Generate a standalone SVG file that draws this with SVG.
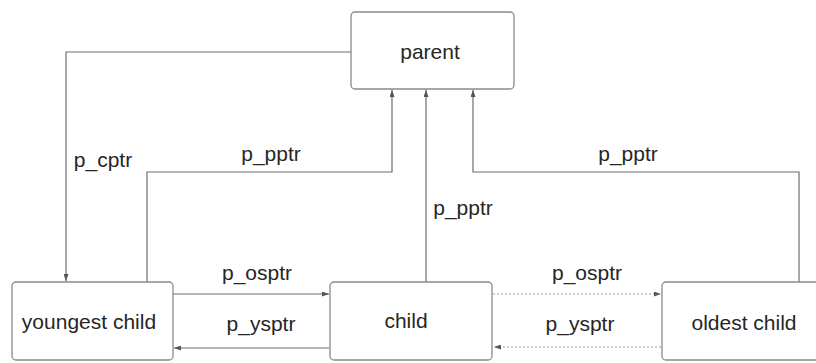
<svg xmlns="http://www.w3.org/2000/svg" width="816" height="363" viewBox="0 0 816 363">
  <style>
    .box { fill: #ffffff; stroke: #8a8a8a; stroke-width: 1.3; }
    .lbl { font-family: "Liberation Sans", Arial, sans-serif; font-size: 21px; fill: #262626; text-anchor: middle; dominant-baseline: central; }
    .link { fill: none; stroke: #6e6e6e; stroke-width: 1.2; }
    .dotted { fill: none; stroke: #9a9a9a; stroke-width: 1.2; stroke-dasharray: 2 2; }
  </style>
  <defs>
    <marker id="arrow" viewBox="0 0 7 5" refX="7" refY="2.5" markerWidth="7" markerHeight="5" markerUnits="userSpaceOnUse" orient="auto">
      <path d="M0,0 L7,2.5 L0,5 z" fill="#555555"/>
    </marker>
  </defs>
  <rect width="816" height="363" fill="#ffffff"/>

  <!-- links between the task structs -->
  <g id="connectors">
    <!-- parent -> youngest child (p_cptr) -->
    <path class="link" d="M351,52 H66 V281" marker-end="url(#arrow)"/>
    <!-- youngest child -> parent (p_pptr) -->
    <path class="link" d="M147,282 V172 H392 V90" marker-end="url(#arrow)"/>
    <!-- child -> parent (p_pptr) -->
    <path class="link" d="M426,282 V90" marker-end="url(#arrow)"/>
    <!-- oldest child -> parent (p_pptr) -->
    <path class="link" d="M799,282 V172 H473 V90" marker-end="url(#arrow)"/>
    <!-- youngest child -> child (p_osptr) -->
    <path class="link" d="M173,294 H329" marker-end="url(#arrow)"/>
    <!-- child -> youngest child (p_ysptr) -->
    <path class="link" d="M329,348 H174" marker-end="url(#arrow)"/>
    <!-- child -> oldest child (p_osptr) -->
    <path class="dotted" d="M493,294 H661" marker-end="url(#arrow)"/>
    <!-- oldest child -> child (p_ysptr) -->
    <path class="dotted" d="M661,347 H494" marker-end="url(#arrow)"/>

    <text class="lbl" x="103" y="159">p_cptr</text>
    <text class="lbl" x="271" y="153">p_pptr</text>
    <text class="lbl" x="463" y="207">p_pptr</text>
    <text class="lbl" x="628" y="153">p_pptr</text>
    <text class="lbl" x="257" y="272">p_osptr</text>
    <text class="lbl" x="587" y="272">p_osptr</text>
    <text class="lbl" x="261" y="323">p_ysptr</text>
    <text class="lbl" x="580" y="323">p_ysptr</text>
  </g>

  <g id="parent">
    <rect class="box" x="351" y="12" width="163" height="77" rx="4"/>
    <text class="lbl" x="430" y="51">parent</text>
  </g>

  <g id="youngest-child">
    <rect class="box" x="12" y="282" width="161" height="78" rx="4"/>
    <text class="lbl" x="89" y="321">youngest child</text>
  </g>

  <g id="child">
    <rect class="box" x="330" y="282" width="162" height="78" rx="4"/>
    <text class="lbl" x="406" y="320">child</text>
  </g>

  <g id="oldest-child">
    <rect class="box" x="662" y="282" width="170" height="78" rx="4"/>
    <text class="lbl" x="744" y="322">oldest child</text>
  </g>
</svg>
